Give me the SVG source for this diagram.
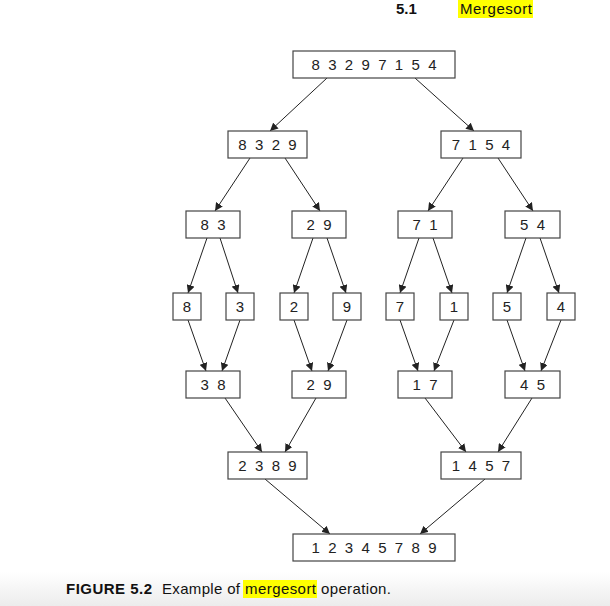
<svg xmlns="http://www.w3.org/2000/svg" width="610" height="606" viewBox="0 0 610 606">
<defs>
<marker id="ah" viewBox="0 0 10 10" refX="10" refY="5" markerWidth="8" markerHeight="8" markerUnits="userSpaceOnUse" orient="auto"><path d="M0,0 L10,5 L0,10 z" fill="#222"/></marker>
<linearGradient id="bg" x1="0" y1="0" x2="0" y2="1"><stop offset="0" stop-color="#fff"/><stop offset="1" stop-color="#ececec"/></linearGradient>
<style>
rect.n{fill:#fff;stroke:#444;stroke-width:1.2}
text.t{font-family:"Liberation Sans",Arial,sans-serif;font-size:15px;fill:#222;text-anchor:middle;white-space:pre}
text.c{font-family:"Liberation Sans",Arial,sans-serif;font-size:15px;fill:#111}
line{stroke:#222;stroke-width:1;marker-end:url(#ah)}
</style>
</defs>
<rect x="0" y="0" width="610" height="606" fill="#fff"/>
<rect x="0" y="572" width="610" height="34" fill="url(#bg)"/>
<g id="header">
<rect x="458" y="0" width="75" height="18" fill="#ffff00"/>
<text class="c" x="396" y="14" font-weight="bold" font-size="16">5.1</text>
<text class="c" x="460" y="14" textLength="72">Mergesort</text>
</g>
<g id="connectors">
<line x1="327" y1="78" x2="270" y2="131"/>
<line x1="415" y1="78" x2="474" y2="131"/>
<line x1="250" y1="158" x2="215" y2="211"/>
<line x1="285" y1="158" x2="320" y2="211"/>
<line x1="463" y1="158" x2="428" y2="211"/>
<line x1="498" y1="158" x2="533" y2="211"/>
<line x1="207" y1="238" x2="188" y2="293"/>
<line x1="220" y1="238" x2="238" y2="293"/>
<line x1="313" y1="238" x2="294" y2="293"/>
<line x1="327" y1="238" x2="346" y2="293"/>
<line x1="419" y1="238" x2="400" y2="293"/>
<line x1="433" y1="238" x2="452" y2="293"/>
<line x1="526" y1="238" x2="507" y2="293"/>
<line x1="540" y1="238" x2="559" y2="293"/>
<line x1="188" y1="320" x2="206" y2="371"/>
<line x1="240" y1="320" x2="222" y2="371"/>
<line x1="294" y1="320" x2="312" y2="371"/>
<line x1="347" y1="320" x2="328" y2="371"/>
<line x1="400" y1="320" x2="418" y2="371"/>
<line x1="454" y1="320" x2="434" y2="371"/>
<line x1="507" y1="320" x2="525" y2="371"/>
<line x1="561" y1="320" x2="541" y2="371"/>
<line x1="225" y1="398" x2="262" y2="452"/>
<line x1="316" y1="398" x2="285" y2="452"/>
<line x1="425" y1="398" x2="466" y2="452"/>
<line x1="532" y1="398" x2="498" y2="452"/>
<line x1="265" y1="479" x2="330" y2="534"/>
<line x1="485" y1="479" x2="420" y2="534"/>
</g>
<g id="n0"><rect class="n" x="293" y="51" width="162" height="27"/><text class="t" x="374" y="70">8  3  2  9  7  1  5  4</text></g>
<g id="n1"><rect class="n" x="228" y="131" width="79" height="27"/><text class="t" x="267.5" y="150">8  3  2  9</text></g>
<g id="n2"><rect class="n" x="441" y="131" width="80" height="27"/><text class="t" x="481" y="150">7  1  5  4</text></g>
<g id="n3"><rect class="n" x="186" y="211" width="54" height="27"/><text class="t" x="213" y="230">8  3</text></g>
<g id="n4"><rect class="n" x="292" y="211" width="54" height="27"/><text class="t" x="319" y="230">2  9</text></g>
<g id="n5"><rect class="n" x="398" y="211" width="54" height="27"/><text class="t" x="425" y="230">7  1</text></g>
<g id="n6"><rect class="n" x="505" y="211" width="55" height="27"/><text class="t" x="532.5" y="230">5  4</text></g>
<g id="n7"><rect class="n" x="173" y="293" width="28" height="27"/><text class="t" x="187" y="312">8</text></g>
<g id="n8"><rect class="n" x="226" y="293" width="28" height="27"/><text class="t" x="240" y="312">3</text></g>
<g id="n9"><rect class="n" x="280" y="293" width="28" height="27"/><text class="t" x="294" y="312">2</text></g>
<g id="n10"><rect class="n" x="333" y="293" width="28" height="27"/><text class="t" x="347" y="312">9</text></g>
<g id="n11"><rect class="n" x="386" y="293" width="28" height="27"/><text class="t" x="400" y="312">7</text></g>
<g id="n12"><rect class="n" x="440" y="293" width="28" height="27"/><text class="t" x="454" y="312">1</text></g>
<g id="n13"><rect class="n" x="493" y="293" width="28" height="27"/><text class="t" x="507" y="312">5</text></g>
<g id="n14"><rect class="n" x="547" y="293" width="28" height="27"/><text class="t" x="561" y="312">4</text></g>
<g id="n15"><rect class="n" x="186" y="371" width="54" height="27"/><text class="t" x="213" y="390">3  8</text></g>
<g id="n16"><rect class="n" x="292" y="371" width="54" height="27"/><text class="t" x="319" y="390">2  9</text></g>
<g id="n17"><rect class="n" x="398" y="371" width="54" height="27"/><text class="t" x="425" y="390">1  7</text></g>
<g id="n18"><rect class="n" x="505" y="371" width="55" height="27"/><text class="t" x="532.5" y="390">4  5</text></g>
<g id="n19"><rect class="n" x="228" y="452" width="79" height="27"/><text class="t" x="267.5" y="471">2  3  8  9</text></g>
<g id="n20"><rect class="n" x="441" y="452" width="80" height="27"/><text class="t" x="481" y="471">1  4  5  7</text></g>
<g id="n21"><rect class="n" x="293" y="534" width="162" height="27"/><text class="t" x="374" y="553">1  2  3  4  5  7  8  9</text></g>
<g id="caption">
<rect x="243" y="580" width="74" height="18" fill="#ffff00"/>
<text class="c" x="66" y="594" font-weight="bold" textLength="86">FIGURE 5.2</text>
<text class="c" x="162" y="594" textLength="78">Example of</text>
<text class="c" x="245" y="594" textLength="71">mergesort</text>
<text class="c" x="321" y="594" textLength="70">operation.</text>
</g>
</svg>
